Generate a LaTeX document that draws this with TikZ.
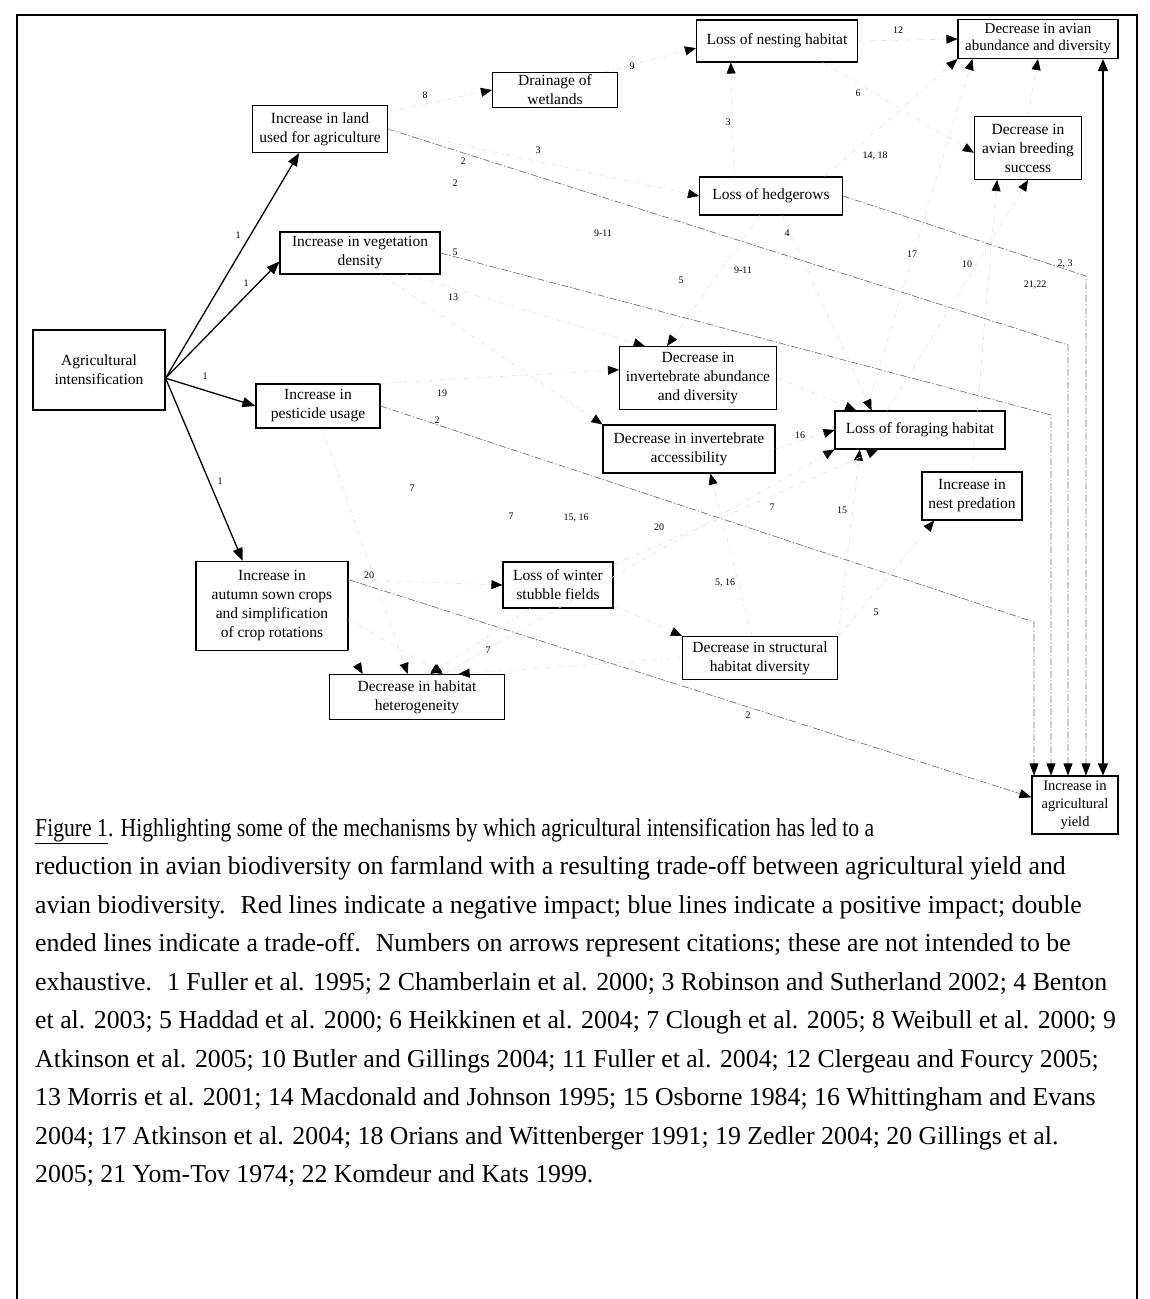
\documentclass[tikz,border=0pt]{standalone}
\usepackage{fontspec}
\usepackage{graphicx}
\setmainfont{Liberation Serif}
\usetikzlibrary{arrows.meta}

\tikzset{
  box/.style={draw, line width=1.1pt, align=center, inner sep=0pt,
    font=\fontsize{15.5}{19}\selectfont},
  drive/.style={line width=1.3pt, -{Triangle[length=13pt,width=10pt]}},
  tradeoff/.style={line width=1.6pt,
    {Triangle[length=12pt,width=10pt]}-{Triangle[length=12pt,width=10pt]}},
  yieldlink/.style={draw=black!55, line width=0.7pt,
    dash pattern=on 7pt off 2pt on 1.5pt off 2pt,
    -{Triangle[length=12pt,width=9pt,color=black]}},
  faint/.style={draw=black!12, line width=0.6pt,
    dash pattern=on 5pt off 3pt on 1pt off 3pt,
    -{Triangle[length=11pt,width=9pt,color=black]}},
  cite/.style={font=\fontsize{10}{10}\selectfont, inner sep=1pt},
  capline/.style={anchor=base west, inner sep=0pt, font=\fontsize{25.8}{25.8}\selectfont},
}

\begin{document}
\begin{tikzpicture}[x=1pt,y=-1pt]
\useasboundingbox (0,0) rectangle (1150,1299);
% frame round figure and caption
\draw[line width=2.4pt] (17,1299) -- (17,15) -- (1137,15) -- (1137,1299);

% boxes
\node[box, minimum width=132pt, minimum height=80pt] (agri) at (99,370) {Agricultural\\intensification};
\node[box, minimum width=135pt, minimum height=47pt] (land) at (320,129) {Increase in land\\used for agriculture};
\node[box, minimum width=160pt, minimum height=42pt] (veg) at (360,253) {Increase in vegetation\\density};
\node[box, minimum width=124pt, minimum height=44pt] (pest) at (318,406) {Increase in\\pesticide usage};
\node[box, minimum width=152pt, minimum height=89pt] (autumn) at (272,606) {Increase in\\autumn sown crops\\and simplification\\of crop rotations};
\node[box, minimum width=125pt, minimum height=35pt] (drain) at (555,90) {Drainage of\\wetlands};
\node[box, minimum width=161pt, minimum height=42pt] (nest) at (777,41) {Loss of nesting habitat};
\node[box, minimum width=160pt, minimum height=39pt, font=\fontsize{15}{17}\selectfont] (avian) at (1038,39) {Decrease in avian\\abundance and diversity};
\node[box, minimum width=107pt, minimum height=63pt] (breed) at (1028,148) {Decrease in\\avian breeding\\success};
\node[box, minimum width=143pt, minimum height=38pt] (hedge) at (771,196) {Loss of hedgerows};
\node[box, minimum width=157pt, minimum height=63pt] (invab) at (698,378) {Decrease in\\invertebrate abundance\\and diversity};
\node[box, minimum width=172pt, minimum height=48pt] (invac) at (689,449) {Decrease in invertebrate\\accessibility};
\node[box, minimum width=170pt, minimum height=38pt] (forage) at (920,430) {Loss of foraging habitat};
\node[box, minimum width=100pt, minimum height=48pt] (pred) at (972,496) {Increase in\\nest predation};
\node[box, minimum width=110pt, minimum height=46pt] (stubble) at (558,585) {Loss of winter\\stubble fields};
\node[box, minimum width=155pt, minimum height=43pt] (struct) at (760,658) {Decrease in structural\\habitat diversity};
\node[box, minimum width=175pt, minimum height=45pt] (hetero) at (417,697) {Decrease in habitat\\heterogeneity};
\node[box, minimum width=86pt, minimum height=58pt, font=\fontsize{14.5}{18}\selectfont] (yield) at (1075,805) {Increase in\\agricultural\\yield};

% intensification drives
\draw[drive] (agri.-7) -- (land.-131);
\draw[drive] (agri.-7) -- (veg.186);
\draw[drive] (agri.-7) -- (pest.west);
\draw[drive] (agri.-7) -- (autumn.123);

% trade-off
\coordinate (tradex) at (1103,0);
\draw[tradeoff] (avian.south -| tradex) -- (yield.north -| tradex);

% links into yield
\coordinate (landturn) at (1068,345);
\coordinate (vegturn) at (1051,415);
\coordinate (hedgeturn) at (1086,276);
\coordinate (pestturn) at (1034,622);
\draw[yieldlink] (land.east) -- (landturn) -- (landturn |- yield.north);
\draw[yieldlink] (veg.east) -- (vegturn) -- (vegturn |- yield.north);
\draw[yieldlink] (hedge.east) -- (hedgeturn) -- (hedgeturn |- yield.north);
\draw[yieldlink] (pest.east) -- (pestturn) -- (pestturn |- yield.north);
\draw[yieldlink] (autumn.19) -- (yield.170);

% faded impact links
\draw[faint] (land.14) -- (drain.west);
\draw[faint] (drain.20) -- (nest.185);
\draw[faint] (hedge.152) -- (nest.205);
\draw[faint] (nest.east) -- (avian.west);
\draw[faint] (nest.-25) -- (breed.185);
\draw[faint] (hedge.20) -- (avian.south west);
\draw[faint] (forage.160) -- (avian.197);
\draw[faint] (forage.149) -- (breed.south);
\draw[faint] (breed.north) -- (avian.south);
\draw[faint] (pred.north) -- (breed.-134);
\draw[faint] (land.east) -- (hedge.west);
\draw[faint] (veg.-25) -- (invab.149);
\draw[faint] (hedge.-120) -- (invab.134);
\draw[faint] (pest.20) -- (invab.174);
\draw[faint] (veg.-45) -- (invac.north west);
\draw[faint] (struct.110) -- (invac.-49);
\draw[faint] (invab.east) -- (forage.163);
\draw[faint] (hedge.-60) -- (forage.158);
\draw[faint] (invac.east) -- (forage.west);
\draw[faint] (hetero.40) -- (forage.south west);
\draw[faint] (struct.north east) -- (forage.-162);
\draw[faint] (stubble.20) -- (forage.-155);
\draw[faint] (struct.15) -- (pred.-147);
\draw[faint] (autumn.19) -- (stubble.west);
\draw[faint] (stubble.-20) -- (struct.north west);
\draw[faint] (autumn.-30) -- (hetero.157);
\draw[faint] (pest.-80) -- (hetero.112);
\draw[faint] (stubble.-140) -- (hetero.60);
\draw[faint] (autumn.-10) -- (hetero.42);
\draw[faint] (struct.west) -- (hetero.29);

% citation numbers
\node[cite] (c1a) at (238,235) {1};
\node[cite] (c1b) at (246,283) {1};
\node[cite] (c1c) at (205,376) {1};
\node[cite] (c1d) at (220,481) {1};
\node[cite] (c8) at (425,95) {8};
\node[cite] (c9) at (632,66) {9};
\node[cite] (c2a) at (463,161) {2};
\node[cite] (c3a) at (538,150) {3};
\node[cite] (c2b) at (455,183) {2};
\node[cite] (c6) at (858,93) {6};
\node[cite] (c3b) at (728,122) {3};
\node[cite] (c12) at (898,30) {12};
\node[cite] (c1418) at (875,156) {14, 18};
\node[cite] (c911a) at (603,233) {9-11};
\node[cite] (c4) at (787,233) {4};
\node[cite] (c5a) at (455,252) {5};
\node[cite] (c911b) at (743,270) {9-11};
\node[cite] (c5b) at (681,280) {5};
\node[cite] (c17) at (912,254) {17};
\node[cite] (c10) at (967,264) {10};
\node[cite] (c23) at (1065,264) {2, 3};
\node[cite] (c2122) at (1035,285) {21,22};
\node[cite] (c13) at (453,297) {13};
\node[cite] (c19) at (442,393) {19};
\node[cite] (c2c) at (437,420) {2};
\node[cite] (c16) at (800,435) {16};
\node[cite] (c7a) at (412,488) {7};
\node[cite] (c7b) at (511,516) {7};
\node[cite] (c1516) at (576,518) {15, 16};
\node[cite] (c20a) at (659,527) {20};
\node[cite] (c7c) at (772,507) {7};
\node[cite] (c15) at (842,510) {15};
\node[cite] (c20b) at (369,575) {20};
\node[cite] (c516) at (725,583) {5, 16};
\node[cite] (c5c) at (876,612) {5};
\node[cite] (c7d) at (488,650) {7};
\node[cite] (c2d) at (748,715) {2};

% caption
\node[capline] (cap1) at (35,836) {\scalebox{0.84}[1]{\underline{Figure 1}. Highlighting some of the mechanisms by which agricultural intensification has led to a}};
\node[capline] (cap2) at (35,874.5) {reduction in avian biodiversity on farmland with a resulting trade-off between agricultural yield and};
\node[capline] (cap3) at (35,913) {avian biodiversity.~ Red lines indicate a negative impact; blue lines indicate a positive impact; double};
\node[capline] (cap4) at (35,951.5) {ended lines indicate a trade-off.~ Numbers on arrows represent citations; these are not intended to be};
\node[capline] (cap5) at (35,990) {exhaustive.~ 1 Fuller et al. 1995; 2 Chamberlain et al. 2000; 3 Robinson and Sutherland 2002; 4 Benton};
\node[capline] (cap6) at (35,1028.5) {et al. 2003; 5 Haddad et al. 2000; 6 Heikkinen et al. 2004; 7 Clough et al. 2005; 8 Weibull et al. 2000; 9};
\node[capline] (cap7) at (35,1067) {Atkinson et al. 2005; 10 Butler and Gillings 2004; 11 Fuller et al. 2004; 12 Clergeau and Fourcy 2005;};
\node[capline] (cap8) at (35,1105.5) {13 Morris et al. 2001; 14 Macdonald and Johnson 1995; 15 Osborne 1984; 16 Whittingham and Evans};
\node[capline] (cap9) at (35,1144) {2004; 17 Atkinson et al. 2004; 18 Orians and Wittenberger 1991; 19 Zedler 2004; 20 Gillings et al.};
\node[capline] (cap10) at (35,1182.5) {2005; 21 Yom-Tov 1974; 22 Komdeur and Kats 1999.};
\end{tikzpicture}
\end{document}
